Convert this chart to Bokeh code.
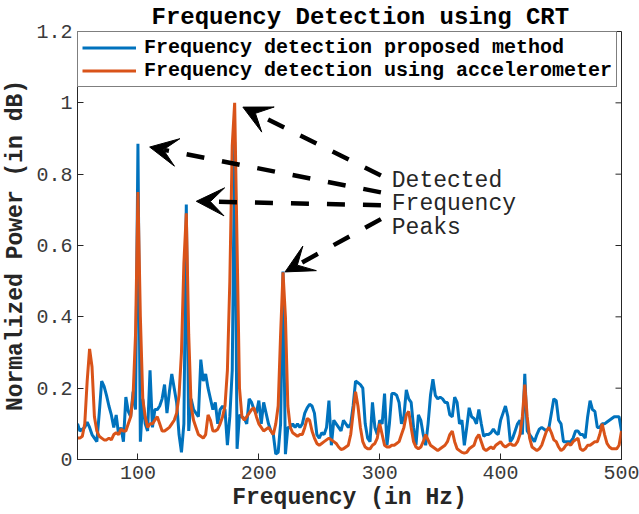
from bokeh.plotting import figure
from bokeh.models import (Range1d, FixedTicker, NumeralTickFormatter,
                          Legend, LegendItem, Arrow, VeeHead, Label)
from bokeh.embed import file_html
from bokeh.resources import INLINE
import math

# ---------------- data ----------------
freq = list(range(50, 502, 2))

power_proposed = [
    0.10, 0.08, 0.085, 0.09, 0.105, 0.09, 0.07, 0.06, 0.05, 0.13,   # 50-68
    0.22, 0.205, 0.18, 0.15, 0.125, 0.09, 0.125, 0.07, 0.09, 0.05,  # 70-88
    0.175, 0.135, 0.12, 0.19, 0.14, 0.885, 0.05, 0.17, 0.10, 0.08,  # 90-108
    0.25, 0.09, 0.14, 0.14, 0.15, 0.17, 0.21, 0.13, 0.19, 0.24,     # 110-128
    0.20, 0.16, 0.07, 0.02, 0.10, 0.715, 0.08, 0.17, 0.14, 0.13,    # 130-148
    0.12, 0.28, 0.22, 0.24, 0.20, 0.17, 0.14, 0.16, 0.10, 0.14,     # 150-168
    0.15, 0.14, 0.04, 0.12, 0.25, 0.89, 0.03, 0.125, 0.12, 0.115,   # 170-188
    0.10, 0.17, 0.16, 0.14, 0.13, 0.165, 0.10, 0.16, 0.13, 0.10,    # 190-208
    0.08, 0.07, 0.015, 0.02, 0.10, 0.527, 0.015, 0.09, 0.09, 0.10,  # 210-228
    0.09, 0.10, 0.09, 0.10, 0.13, 0.145, 0.155, 0.15, 0.13, 0.07,   # 230-248
    0.06, 0.075, 0.07, 0.09, 0.165, 0.04, 0.11, 0.10, 0.09, 0.08,   # 250-268
    0.11, 0.10, 0.09, 0.10, 0.15, 0.22, 0.215, 0.21, 0.20, 0.10,    # 270-288
    0.06, 0.05, 0.16, 0.09, 0.07, 0.11, 0.10, 0.185, 0.04, 0.10,    # 290-308
    0.185, 0.185, 0.18, 0.16, 0.10, 0.12, 0.195, 0.17, 0.16, 0.09,  # 310-328
    0.04, 0.125, 0.11, 0.07, 0.04, 0.10, 0.18, 0.225, 0.18, 0.17,   # 330-348
    0.175, 0.17, 0.16, 0.16, 0.125, 0.12, 0.175, 0.16, 0.10, 0.11,  # 350-368
    0.04, 0.09, 0.145, 0.12, 0.115, 0.10, 0.14, 0.10, 0.065, 0.07,  # 370-388
    0.07, 0.075, 0.085, 0.075, 0.07, 0.11, 0.13, 0.15, 0.12, 0.05,  # 390-408
    0.06, 0.08, 0.10, 0.11, 0.07, 0.24, 0.08, 0.07, 0.06, 0.05,     # 410-428
    0.07, 0.085, 0.09, 0.085, 0.08, 0.09, 0.13, 0.17, 0.165, 0.11,  # 430-448
    0.10, 0.05, 0.05, 0.05, 0.05, 0.06, 0.08, 0.08, 0.07, 0.07,     # 450-468
    0.06, 0.12, 0.165, 0.14, 0.135, 0.09, 0.09, 0.10, 0.10, 0.105,  # 470-488
    0.11, 0.115, 0.12, 0.12, 0.12, 0.08,                            # 490-500
]

power_accel = [
    0.06, 0.06, 0.065, 0.10, 0.22, 0.31, 0.26, 0.12, 0.08, 0.065,   # 50-68
    0.06, 0.055, 0.055, 0.06, 0.055, 0.07, 0.075, 0.07, 0.085, 0.08, # 70-88
    0.08, 0.10, 0.12, 0.18, 0.35, 0.75, 0.40, 0.17, 0.12, 0.09,     # 90-108
    0.10, 0.10, 0.11, 0.12, 0.10, 0.08, 0.08, 0.085, 0.09, 0.10,    # 110-128
    0.11, 0.13, 0.18, 0.30, 0.55, 0.69, 0.35, 0.15, 0.11, 0.09,     # 130-148
    0.07, 0.065, 0.06, 0.07, 0.125, 0.11, 0.08, 0.08, 0.085, 0.10,  # 150-168
    0.12, 0.15, 0.25, 0.50, 0.88, 1.00, 0.60, 0.20, 0.12, 0.11,     # 170-188
    0.12, 0.13, 0.14, 0.145, 0.12, 0.10, 0.09, 0.08, 0.085, 0.09,   # 190-208
    0.08, 0.07, 0.10, 0.15, 0.35, 0.525, 0.40, 0.15, 0.09, 0.075,   # 210-228
    0.07, 0.065, 0.07, 0.07, 0.09, 0.115, 0.11, 0.08, 0.06, 0.045,  # 230-248
    0.04, 0.045, 0.05, 0.055, 0.06, 0.055, 0.05, 0.045, 0.035, 0.028, # 250-268
    0.03, 0.035, 0.04, 0.07, 0.13, 0.19, 0.15, 0.09, 0.05, 0.035,   # 270-288
    0.03, 0.03, 0.04, 0.045, 0.06, 0.10, 0.07, 0.04, 0.035, 0.035,  # 290-308
    0.04, 0.04, 0.045, 0.05, 0.07, 0.09, 0.125, 0.135, 0.09, 0.05,  # 310-328
    0.035, 0.03, 0.035, 0.05, 0.07, 0.055, 0.04, 0.035, 0.03, 0.025, # 330-348
    0.03, 0.035, 0.04, 0.05, 0.07, 0.08, 0.05, 0.03, 0.025, 0.02,   # 350-368
    0.018, 0.02, 0.03, 0.035, 0.04, 0.06, 0.07, 0.05, 0.03, 0.025,  # 370-388
    0.03, 0.035, 0.03, 0.04, 0.045, 0.05, 0.04, 0.035, 0.04, 0.045, # 390-408
    0.04, 0.04, 0.05, 0.07, 0.12, 0.21, 0.12, 0.06, 0.035, 0.03,    # 410-428
    0.025, 0.03, 0.04, 0.06, 0.08, 0.09, 0.075, 0.055, 0.05, 0.035, # 430-448
    0.025, 0.03, 0.04, 0.045, 0.04, 0.05, 0.055, 0.06, 0.03, 0.025, # 450-468
    0.03, 0.04, 0.04, 0.045, 0.05, 0.05, 0.07, 0.10, 0.07, 0.045,   # 470-488
    0.035, 0.03, 0.03, 0.03, 0.04, 0.08,                            # 490-500
]

x_ticks = [100, 200, 300, 400, 500]
y_ticks = [0, 0.2, 0.4, 0.6, 0.8, 1.0, 1.2]

series_names = ["Frequency detection proposed method",
                "Frequency detection using accelerometer"]
title_text = "Frequency Detection using CRT"
x_label = "Frequency (in Hz)"
y_label = "Normalized Power (in dB)"
note_text = "Detected\nFrequency\nPeaks"

BLUE = "#0072BD"
ORANGE = "#D95319"
AX = "#262626"
MONO = "Liberation Mono"
X_MIN, X_MAX, Y_MIN, Y_MAX = 50, 500, 0, 1.2

# ---------------- figure ----------------
p = figure(width=639, height=514, output_backend="svg", toolbar_location=None,
           x_range=Range1d(X_MIN, X_MAX), y_range=Range1d(Y_MIN, Y_MAX),
           min_border_left=76, min_border_right=18, min_border_top=28,
           min_border_bottom=55, background_fill_color="white",
           border_fill_color="white")
p.grid.visible = False
p.outline_line_color = AX
p.outline_line_width = 1

p.title.text = title_text
p.title.text_font = MONO
p.title.text_font_style = "bold"
p.title.text_font_size = "24px"
p.title.text_color = "black"
p.title.align = "left"
p.title.offset = 74
p.title.standoff = 2

for ax in (p.xaxis[0], p.yaxis[0]):
    ax.axis_line_color = AX
    ax.major_tick_line_color = AX
    ax.major_tick_in = 6
    ax.major_tick_out = 0
    ax.minor_tick_line_color = None
    ax.major_label_text_font = MONO
    ax.major_label_text_font_size = "20px"
    ax.major_label_text_color = "#3a3a3a"
    ax.axis_label_text_font = MONO
    ax.axis_label_text_font_style = "bold"
    ax.axis_label_text_font_size = "23px"
    ax.axis_label_text_color = AX

p.xaxis[0].ticker = FixedTicker(ticks=x_ticks)
p.yaxis[0].ticker = FixedTicker(ticks=y_ticks)
p.yaxis[0].formatter = NumeralTickFormatter(format="0.[0]")
p.xaxis[0].axis_label = x_label
p.yaxis[0].axis_label = y_label
p.xaxis[0].major_label_standoff = 6
p.xaxis[0].axis_label_standoff = 3
p.yaxis[0].major_label_standoff = 5
p.yaxis[0].axis_label_standoff = 4

# inward ticks on the right edge of the box (MATLAB "box on" style)
p.ray(x=[X_MAX] * len(y_ticks), y=y_ticks, length=6, length_units="screen",
      angle=math.pi, line_color=AX, line_width=1)

r1 = p.line(freq, power_proposed, line_color=BLUE, line_width=3)
r2 = p.line(freq, power_accel, line_color=ORANGE, line_width=3)

legend = Legend(items=[LegendItem(label=series_names[0], renderers=[r1]),
                       LegendItem(label=series_names[1], renderers=[r2])],
                location="top_left", margin=0, padding=4, spacing=0,
                glyph_width=54, glyph_height=21, label_height=21, label_standoff=8,
                label_text_font=MONO, label_text_font_style="bold",
                label_text_font_size="20px", label_text_color="black",
                border_line_color="black", border_line_width=1,
                background_fill_color="white", background_fill_alpha=1)
p.add_layout(legend)

# annotation arrows (tail near the text, head at each detected peak)
arrows = [((301, 0.796), (186.8, 0.988)),
          ((301, 0.749), (109.7, 0.876)),
          ((301, 0.713), (148.3, 0.724)),
          ((301, 0.674), (221.7, 0.526))]
for (xs, ys), (xe, ye) in arrows:
    p.add_layout(Arrow(x_start=xs, y_start=ys, x_end=xe, y_end=ye,
                       line_color="black", line_width=4.5, line_dash="18 18",
                       end=VeeHead(size=28, fill_color="black", line_color="black",
                                   line_width=1)))

p.add_layout(Label(x=310, y=0.818, text=note_text, text_font=MONO,
                   text_font_size="23px", text_color=AX, text_baseline="top",
                   text_align="left", text_line_height=0.9))

open("out.html", "w").write(file_html(p, INLINE))
